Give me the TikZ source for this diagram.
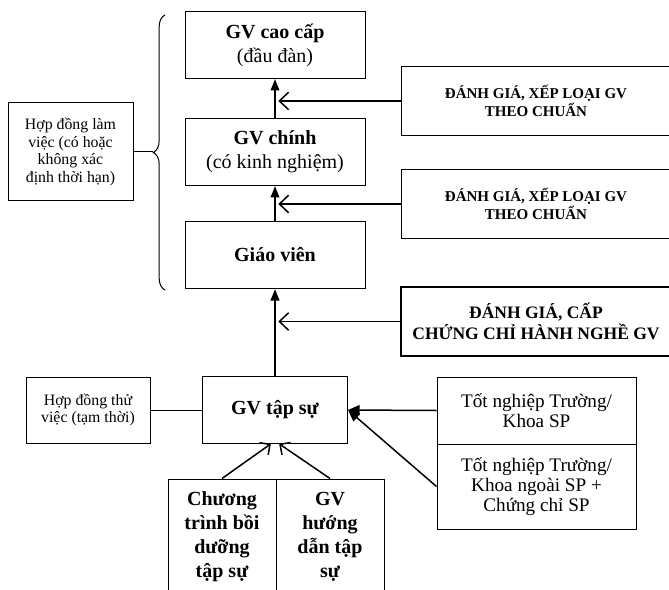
\documentclass[tikz,border=0pt]{standalone}
\usepackage{fontspec}
\setmainfont{Liberation Serif}
\usepackage{tikz}
\usetikzlibrary{calc, arrows.meta, decorations.pathreplacing}

\begin{document}
\begin{tikzpicture}[x=0.6pt, y=-0.6pt,
        rankbox/.style={rectangle, draw=black, line width=0.6pt, minimum width=108pt, minimum height=40pt, align=center, font=\fontsize{12}{14.4}\selectfont},
        evalbox/.style={rectangle, draw=black, line width=0.6pt, minimum width=162pt, minimum height=41pt, align=center, font=\fontsize{9}{11}\selectfont\bfseries},
        notebox/.style={rectangle, draw=black, line width=0.6pt, align=center, font=\fontsize{9.5}{10.5}\selectfont},
        gradbox/.style={rectangle, draw=black, line width=0.6pt, minimum width=119.4pt, align=center, font=\fontsize{11.5}{12}\selectfont},
        trainbox/.style={rectangle, draw=black, line width=0.6pt, minimum width=64.8pt, minimum height=69pt, align=center, font=\fontsize{12}{14.4}\selectfont\bfseries},
        uparrow/.style={-{Triangle[length=7pt,width=5pt]}, line width=1.5pt},
        sidearrow/.style={-{Straight Barb[length=5.5pt,width=10.5pt]}, line width=0.9pt, shorten >=2pt},
        feedarrow/.style={-{Straight Barb[length=4.5pt,width=9pt]}, line width=0.9pt},
        gradarrow/.style={-{Triangle[length=7pt,width=6pt]}, line width=0.9pt}]

        \useasboundingbox (0,0) rectangle (669,589);
        \clip (0,0) rectangle (669,589);

        %% Ranks
        \node (caocap) [rankbox] at (275,45) {\textbf{GV cao cấp}\\(đầu đàn)};
        \node (chinh) [rankbox] at (275,152) {\textbf{GV chính}\\(có kinh nghiệm)};
        \node (giaovien) [rankbox] at (275,255) {\textbf{Giáo viên}};
        \node (tapsu) [rankbox, minimum width=87pt] at (275,410) {\textbf{GV tập sự}};

        %% Evaluations
        \node (eval1) [evalbox] at (536,101) {ĐÁNH GIÁ, XẾP LOẠI GV\\THEO CHUẨN};
        \node (eval2) [evalbox] at (536,204) {ĐÁNH GIÁ, XẾP LOẠI GV\\THEO CHUẨN};
        \node (eval3) [evalbox, line width=1.3pt, font=\fontsize{10.5}{12.5}\selectfont\bfseries] at (536,321.5) {ĐÁNH GIÁ, CẤP\\CHỨNG CHỈ HÀNH NGHỀ GV};

        %% Contracts
        \draw [decorate, decoration={brace, amplitude=7pt}, line width=0.6pt] (165,290) -- (165,15);
        \coordinate (bracetip) at (153,152);
        \node (lamviec) [notebox, minimum width=75pt, minimum height=58.8pt] at (70.5,152) {Hợp đồng làm\\việc (có hoặc\\không xác\\định thời hạn)};
        \node (thuviec) [notebox, minimum width=74.4pt, minimum height=39.6pt] at (88,410) {Hợp đồng thử\\việc (tạm thời)};

        %% Graduates
        \node (tn1) [gradbox, minimum height=40.2pt] at (536.5,410.5) {Tốt nghiệp Trường/\\Khoa SP};
        \node (tn2) [gradbox, minimum height=51pt] at (536.5,486.5) {Tốt nghiệp Trường/\\Khoa ngoài SP +\\Chứng chỉ SP};

        %% Training
        \node (boiduong) [trainbox] at (222,536.5) {Chương\\trình bồi\\dưỡng\\tập sự};
        \node (huongdan) [trainbox] at (330,536.5) {GV\\hướng\\dẫn tập\\sự};

        %% Arrows
        \draw [uparrow] (chinh.north) -- (caocap.south);
        \draw [uparrow] (giaovien.north) -- (chinh.south);
        \draw [uparrow] (tapsu.north) -- (giaovien.south);
        \draw [sidearrow] (eval1.west) -- (eval1.west -| caocap.south);
        \draw [sidearrow] (eval2.west) -- (eval2.west -| chinh.south);
        \draw [sidearrow] (eval3.west) -- (eval3.west -| giaovien.south);
        \draw [gradarrow] (tn1.west) -- (tapsu.east);
        \draw [gradarrow] (tn2.west) -- (tapsu.east);
        \draw [feedarrow] (boiduong.north) -- ([xshift=-2.5pt]tapsu.south);
        \draw [feedarrow] (huongdan.north) -- ([xshift=2.5pt]tapsu.south);

        %% Links
        \draw [line width=0.6pt] (lamviec.east) -- (bracetip);
        \draw [line width=0.6pt] (thuviec.east) -- (tapsu.west);

\end{tikzpicture}
\end{document}
